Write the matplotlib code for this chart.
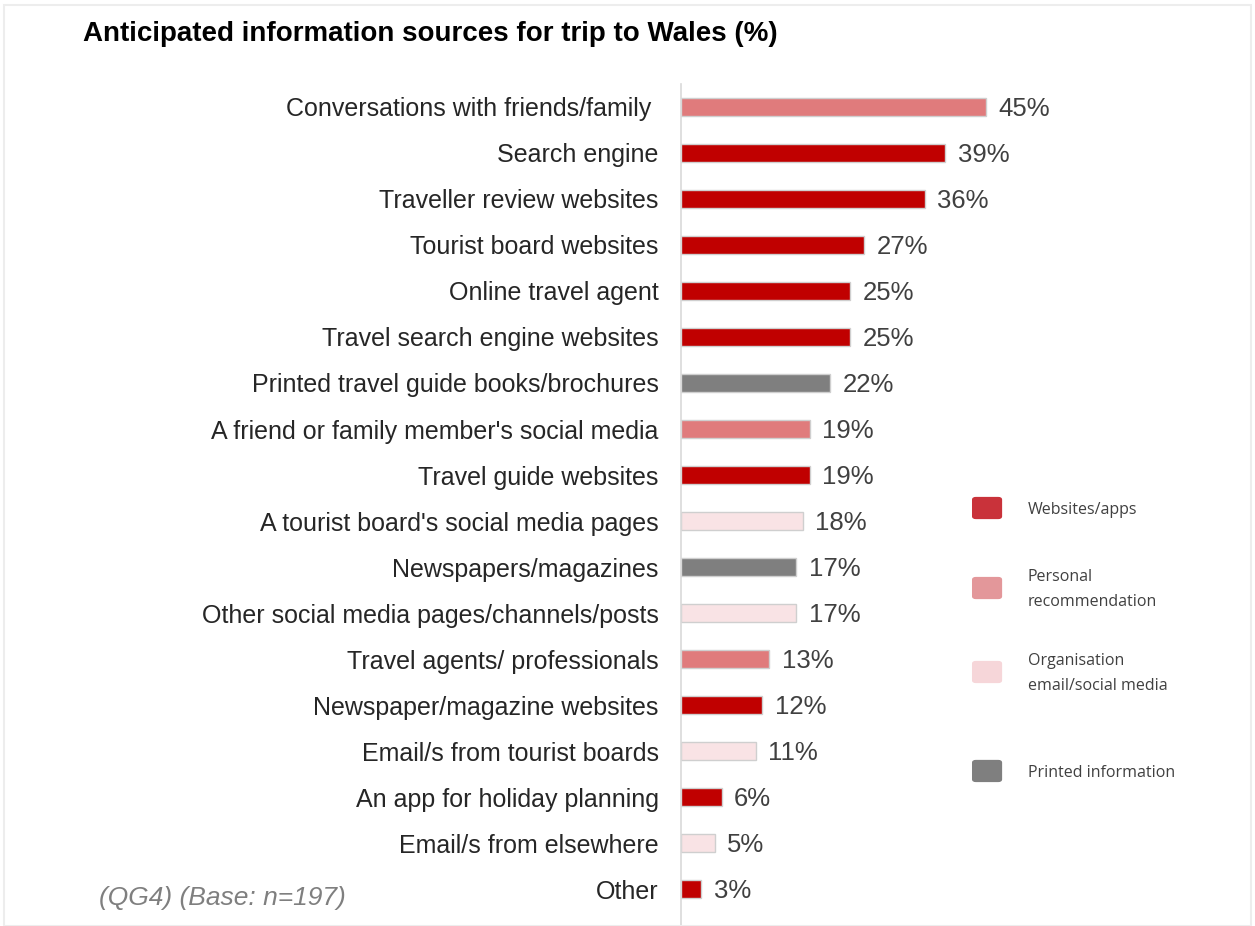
import matplotlib.pyplot as plt
from matplotlib.patches import FancyBboxPatch, Rectangle

labels = [
    "Conversations with friends/family ",
    "Search engine",
    "Traveller review websites",
    "Tourist board websites",
    "Online travel agent",
    "Travel search engine websites",
    "Printed travel guide books/brochures",
    "A friend or family member's social media",
    "Travel guide websites",
    "A tourist board's social media pages",
    "Newspapers/magazines",
    "Other social media pages/channels/posts",
    "Travel agents/ professionals",
    "Newspaper/magazine websites",
    "Email/s from tourist boards",
    "An app for holiday planning",
    "Email/s from elsewhere",
    "Other",
]
values = [45, 39, 36, 27, 25, 25, 22, 19, 19, 18, 17, 17, 13, 12, 11, 6, 5, 3]
groups = ["personal", "web", "web", "web", "web", "web", "printed", "personal", "web",
          "org", "printed", "org", "personal", "web", "org", "web", "org", "web"]

group_names = ["Websites/apps", "Personal\nrecommendation",
               "Organisation\nemail/social media", "Printed information"]
group_keys = ["web", "personal", "org", "printed"]

bar_col = {"web": "#C00000", "personal": "#E07B7C", "org": "#F9E3E5", "printed": "#7F7F7F"}
key_col = {"web": "#C9323A", "personal": "#E3979A", "org": "#F6D6D9", "printed": "#7F7F7F"}

fig = plt.figure(figsize=(12.55, 9.26), dpi=100)
ax = fig.add_axes([0.5426, 0.0151, 0.27, 0.8942])

y = list(range(len(labels)))
ax.barh(y, values, height=0.4, color=[bar_col[g] for g in groups],
        edgecolor="#CFCFCF", linewidth=1.0)
for yi, v in zip(y, values):
    ax.annotate(f"{v}%", (v, yi), xytext=(9, -1.5), textcoords="offset points",
                va="center", ha="left", fontsize=18.5, color="#404040",
                family="Liberation Sans")

ax.set_xlim(0, 50)
ax.set_ylim(len(labels) - 0.5, -0.5)
ax.set_yticks(y)
ax.set_yticklabels(labels, fontsize=18, color="#262626", family="Liberation Sans")
ax.tick_params(axis="y", length=0, pad=16)
ax.set_xticks([])
for s in ["top", "right", "bottom"]:
    ax.spines[s].set_visible(False)
ax.spines["left"].set_color("#D9D9D9")
ax.spines["left"].set_linewidth(1.2)
ax.spines["left"].set_bounds(len(labels) - 0.15, -0.5)

fig.text(0.066, 0.963, "Anticipated information sources for trip to Wales (%)",
         fontsize=20, fontweight="bold", family="Liberation Sans",
         va="center", ha="left", color="black")
fig.text(0.079, 0.030, "(QG4) (Base: n=197)", fontsize=19, style="italic",
         family="Liberation Sans", color="#7F7F7F",
         va="center", ha="left")

# legend keys
key_y = [0.4514, 0.3650, 0.2743, 0.1674]
for k, name, ky in zip(group_keys, group_names, key_y):
    fig.patches.append(FancyBboxPatch((0.7745, ky - 0.012), 0.024, 0.024,
                                      boxstyle="round,pad=0,rounding_size=0.003",
                                      transform=fig.transFigure, facecolor=key_col[k],
                                      edgecolor="none"))
    fig.text(0.819, ky - 0.002, name, fontsize=11.5, family="Open Sans", color="#404040",
             va="center", ha="left", linespacing=1.75)

# thin frame around the panel
fig.patches.append(Rectangle((0.003, 0.0), 0.994, 0.995, transform=fig.transFigure,
                             fill=False, edgecolor="#EDEDED", linewidth=1.5))

fig.savefig("out.png", dpi=100, facecolor="white")
